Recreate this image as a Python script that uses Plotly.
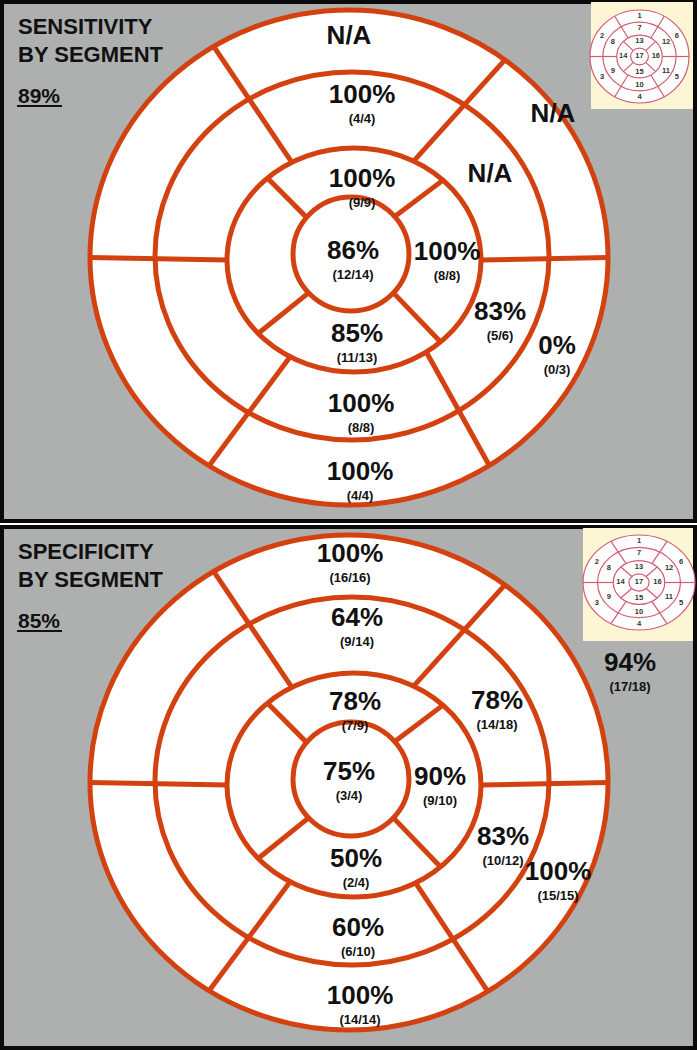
import math
import plotly.graph_objects as go

# ---------------- data ----------------
segments = [1, 7, 13, 12, 6, 17, 16, 15, 11, 5, 10, 4]
sens_num = [None, 4, 9, None, None, 12, 8, 11, 5, 0, 8, 4]
sens_den = [None, 4, 9, None, None, 14, 8, 13, 6, 3, 8, 4]
spec_num = [16, 9, 7, 14, 17, 3, 9, 2, 10, 15, 6, 14]
spec_den = [16, 14, 9, 18, 18, 4, 10, 4, 12, 15, 10, 14]
panel_titles = ["SENSITIVITY", "SPECIFICITY"]
panel_overall = ["89%", "85%"]
inset_numbers = list(range(1, 18))

# ---------------- layout / geometry ----------------
W, H = 697, 1050
PANEL_OFFSETS = [0, 525]
LINE_RED = "#d2410f"
GRAY = "#adb0af"
# rings: (cx, cy, rx, ry) in panel-local pixels
RINGS = [
    (349, 257.5, 259, 247.5),
    (352, 256, 197, 184),
    (354, 260, 127, 112),
    (351, 254, 58, 57),
]
# dividers per panel: (inner ring, angle, outer ring, angle)
DIVIDERS = [
    [
        (2, 180, 0, 180),
        (2, 0, 0, 0),
        (2, 119.3, 0, 121.5),
        (2, 62, 0, 53),
        (2, -55.3, 0, -57.2),
        (2, -120.2, 0, -122.7),
        (3, 140, 2, 133),
        (3, 41, 2, 45.5),
        (3, -43, 2, -47),
        (3, -137, 2, -139),
    ],
    [
        (2, 180, 0, 180),
        (2, 0, 0, 0),
        (2, 119.3, 0, 121.5),
        (2, 62, 0, 53),
        (2, -61, 0, -57.6),
        (2, -120.2, 0, -122.7),
        (3, 140, 2, 133),
        (3, 41, 2, 45.5),
        (3, -43, 2, -47),
        (3, -137, 2, -139),
    ],
]
# label positions (panel-local) for each panel, in order of `segments`
LABEL_POS = [
    [(349, 37), (362, 96), (362, 180), (490, 175), (553, 115), (353, 252),
     (447, 253), (357, 335), (500, 313), (557, 347), (361, 405), (360, 473)],
    [(350, 30), (357, 94), (355, 178), (497, 177), (630, 139), (349, 248),
     (440, 253), (356, 335), (503, 313), (558, 348), (358, 404), (360, 472)],
]
COUNT_DY = 24
# inset: (box x0, y0, x1, y1), bullseye (cx, cy, rx, ry)
INSETS = [
    ((591, 2, 693, 109), (639.5, 56.5, 49.5, 46.5)),
    ((583, 3, 693, 116), (639, 57.5, 56, 47.5)),
]
INSET_RING_FR = [1.0, 0.74, 0.46, 0.18]
INSET_COLOR = "#d35a72"


def ept(ring, ang, oy):
    cx, cy, rx, ry = ring
    a = math.radians(ang)
    return cx + rx * math.cos(a), oy + cy - ry * math.sin(a)


fig = go.Figure()
shapes = []
annotations = []


def add_shape(**kw):
    kw.setdefault("xref", "x")
    kw.setdefault("yref", "y")
    kw["layer"] = "below"
    shapes.append(kw)


for p, oy in enumerate(PANEL_OFFSETS):
    # panel background with black frame
    add_shape(type="rect", x0=2, x1=W - 2,
              y0=oy + 2, y1=oy + 521 if p == 0 else H - 2,
              fillcolor=GRAY, line=dict(color="#0a0a0a", width=4))
    # bullseye rings
    for i, r in enumerate(RINGS):
        cx, cy, rx, ry = r
        add_shape(type="circle",
                  x0=cx - rx, x1=cx + rx, y0=oy + cy - ry, y1=oy + cy + ry,
                  fillcolor="white" if i == 0 else "rgba(0,0,0,0)",
                  line=dict(color=LINE_RED, width=5))
    for ri, ai, ro, ao in DIVIDERS[p]:
        x0, y0 = ept(RINGS[ri], ai, oy)
        x1, y1 = ept(RINGS[ro], ao, oy)
        add_shape(type="line", x0=x0, y0=y0, x1=x1, y1=y1,
                  line=dict(color=LINE_RED, width=5))

    # labels
    nums = sens_num if p == 0 else spec_num
    dens = sens_den if p == 0 else spec_den
    px, py, txt, cx_, cy_, ctxt = [], [], [], [], [], []
    for k, seg in enumerate(segments):
        x, y = LABEL_POS[p][k]
        n, d = nums[k], dens[k]
        px.append(x)
        py.append(oy + y)
        if n is None:
            txt.append("N/A")
        else:
            txt.append(f"{round(100 * n / d)}%")
            cx_.append(x)
            cy_.append(oy + y + COUNT_DY)
            ctxt.append(f"({n}/{d})")
    fig.add_trace(go.Scatter(x=px, y=py, text=txt, mode="text", hoverinfo="skip",
                             textfont=dict(family="Liberation Sans", size=26,
                                           color="#111111", weight="bold")))
    fig.add_trace(go.Scatter(x=cx_, y=cy_, text=ctxt, mode="text", hoverinfo="skip",
                             textfont=dict(family="Liberation Sans", size=13,
                                           color="#111111", weight="bold")))

    # titles
    for txt_, yy, sz in [(panel_titles[p], 26.5, 22), ("BY SEGMENT", 54, 22),
                         (panel_overall[p], 95.5, 21)]:
        annotations.append(dict(x=16, y=oy + yy, xref="x", yref="y", text=txt_,
                                showarrow=False, xanchor="left", yanchor="middle",
                                font=dict(family="Liberation Sans", size=sz,
                                          color="#111111", weight="bold")))
    add_shape(type="line", x0=17, x1=62, y0=oy + 106, y1=oy + 106,
              line=dict(color="#111111", width=2))

    # inset reference diagram
    (bx0, by0, bx1, by1), (icx, icy, irx, iry) = INSETS[p]
    add_shape(type="rect", x0=bx0, x1=bx1, y0=oy + by0, y1=oy + by1,
              fillcolor="#fcf6d4", line=dict(width=0))
    for i, fr in enumerate(INSET_RING_FR):
        add_shape(type="circle",
                  x0=icx - irx * fr, x1=icx + irx * fr,
                  y0=oy + icy - iry * fr, y1=oy + icy + iry * fr,
                  fillcolor="white" if i == 0 else "rgba(0,0,0,0)",
                  line=dict(color=INSET_COLOR, width=1.2))
    iring = [(icx, icy, irx * f, iry * f) for f in INSET_RING_FR]
    for ang in [0, 60, 120, 180, 240, 300]:
        x0, y0 = ept(iring[2], ang, oy)
        x1, y1 = ept(iring[0], ang, oy)
        add_shape(type="line", x0=x0, y0=y0, x1=x1, y1=y1,
                  line=dict(color=INSET_COLOR, width=1.2))
    for ang in [45, 135, 225, 315]:
        x0, y0 = ept(iring[3], ang, oy)
        x1, y1 = ept(iring[2], ang, oy)
        add_shape(type="line", x0=x0, y0=y0, x1=x1, y1=y1,
                  line=dict(color=INSET_COLOR, width=1.2))
    ix, iy, it = [], [], []
    for s in inset_numbers:
        if s <= 6:
            ang, fr = 90 + 60 * (s - 1), 0.87
        elif s <= 12:
            ang, fr = 90 + 60 * (s - 7), 0.62
        elif s <= 16:
            ang, fr = 90 + 90 * (s - 13), 0.33
        else:
            ang, fr = 0, 0.0
        a = math.radians(ang)
        ix.append(icx + irx * fr * math.cos(a))
        iy.append(oy + icy - iry * fr * math.sin(a))
        it.append(str(s))
    fig.add_trace(go.Scatter(x=ix, y=iy, text=it, mode="text", hoverinfo="skip",
                             textfont=dict(family="Liberation Sans", size=7.5,
                                           color="#333333", weight="bold")))

fig.update_layout(
    width=W, height=H, margin=dict(l=0, r=0, t=0, b=0),
    paper_bgcolor="white", plot_bgcolor="white", showlegend=False,
    xaxis=dict(range=[0, W], visible=False, fixedrange=True),
    yaxis=dict(range=[H, 0], visible=False, fixedrange=True),
    shapes=shapes, annotations=annotations,
)
fig.write_html("out.html", config={"displayModeBar": False},
               post_script="document.body.style.margin='0';document.body.style.overflow='hidden';")
